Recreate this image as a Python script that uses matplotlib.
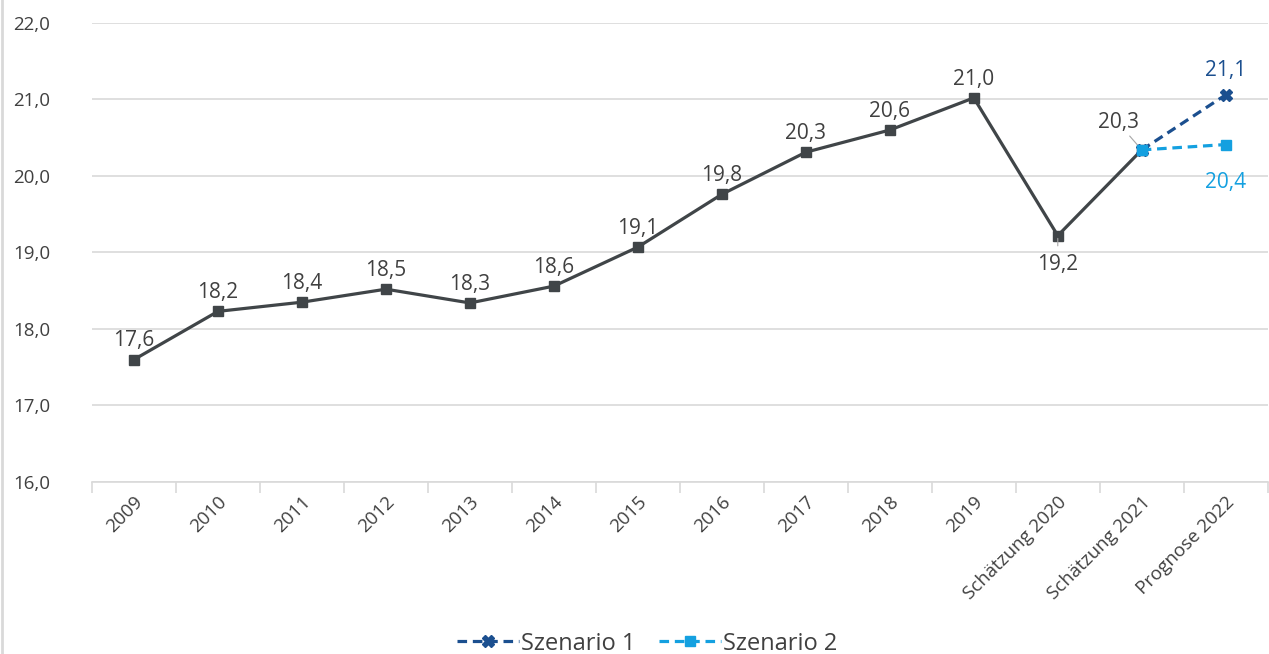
import matplotlib
matplotlib.use('Agg')
import matplotlib.pyplot as plt
import numpy as np

# data
categories = ['2009', '2010', '2011', '2012', '2013', '2014', '2015', '2016',
              '2017', '2018', '2019', 'Schätzung 2020', 'Schätzung 2021', 'Prognose 2022']
main_values = [17.6, 18.23, 18.35, 18.52, 18.34, 18.56, 19.07, 19.76,
               20.31, 20.60, 21.02, 19.22, 20.34]
szenario1 = [20.34, 21.06]
szenario2 = [20.34, 20.41]

GRAY = '#404548'
TEXT = '#404040'
DARK_BLUE = '#1B4F8F'
LIGHT_BLUE = '#14A0E0'
GRID = '#D9D9D9'

plt.rcParams['font.family'] = ['Open Sans', 'DejaVu Sans']

fig = plt.figure(figsize=(12.69, 6.54), dpi=100)
ax = fig.add_axes([0.0725, 0.263, 0.9265, 0.702])

x = np.arange(len(categories))
x_main = x[:len(main_values)]
x_scen = x[len(main_values) - 1:]

ax.plot(x_main, main_values, color=GRAY, lw=2.3, marker='s', ms=7, zorder=3)
l1, = ax.plot(x_scen, szenario1, color=DARK_BLUE, lw=2.3, ls=(0, (3, 1.8)),
              marker='X', ms=8, zorder=4, label='Szenario 1')
l2, = ax.plot(x_scen, szenario2, color=LIGHT_BLUE, lw=2.3, ls=(0, (3, 1.8)),
              marker='s', ms=7, zorder=4, label='Szenario 2')

def fmt(v):
    return f'{v:.1f}'.replace('.', ',')

LBL = 15

# data labels
for i, v in enumerate(main_values):
    if i == 11:
        ax.annotate(fmt(v), (i, v), xytext=(0, -13), textcoords='offset points',
                    ha='center', va='top', fontsize=LBL, color=TEXT)
        ax.annotate('', (i, v), xytext=(i, v - 0.17),
                    arrowprops=dict(arrowstyle='-', color='#A6A6A6', lw=0.8))
    elif i == 12:
        ax.annotate(fmt(v), (i, v), xytext=(-17, 12), textcoords='offset points',
                    ha='center', va='bottom', fontsize=LBL, color=TEXT,
                    arrowprops=dict(arrowstyle='-', color='#A6A6A6', lw=0.8,
                                    shrinkA=0, shrinkB=3))
    else:
        ax.annotate(fmt(v), (i, v), xytext=(0, 6), textcoords='offset points',
                    ha='center', va='bottom', fontsize=LBL, color=TEXT)

ax.annotate(fmt(szenario1[-1]), (x_scen[-1], szenario1[-1]), xytext=(0, 10),
            textcoords='offset points', ha='center', va='bottom', fontsize=LBL, color=DARK_BLUE)
ax.annotate(fmt(szenario2[-1]), (x_scen[-1], szenario2[-1]), xytext=(0, -20),
            textcoords='offset points', ha='center', va='top', fontsize=LBL, color=LIGHT_BLUE)

ax.set_xlim(-0.5, len(categories) - 0.5)
ax.set_ylim(16, 22)
ax.set_yticks(np.arange(16, 23, 1))
ax.set_yticklabels([fmt(t) for t in np.arange(16, 23, 1)])
ax.yaxis.grid(True, color=GRID, lw=1.2)
ax.set_axisbelow(True)

ax.set_xticks(x)
ax.set_xticklabels(categories, rotation=45, ha='right', rotation_mode='anchor')
ax.set_xticks(np.arange(-0.5, len(categories), 1), minor=True)
ax.tick_params(axis='x', which='major', length=0, pad=8, labelsize=13.5, labelcolor=TEXT)
ax.tick_params(axis='x', which='minor', length=8, color=GRID, width=1.2)
ax.tick_params(axis='y', length=0, pad=57, labelsize=13.5, labelcolor=TEXT)
for lab in ax.get_yticklabels():
    lab.set_horizontalalignment('left')

for s in ['top', 'right', 'left']:
    ax.spines[s].set_visible(False)
ax.spines['bottom'].set_color(GRID)
ax.spines['bottom'].set_linewidth(1.2)

fig.legend(handles=[l1, l2], loc='lower center', bbox_to_anchor=(0.51, -0.035),
           ncol=2, frameon=False, fontsize=17, handlelength=2.6, columnspacing=1.0,
           labelcolor=TEXT, handletextpad=0.1)

# thin border on the left of the chart area
fig.add_artist(plt.Line2D([0.0015, 0.0015], [0, 1], color=GRID, lw=2,
                          transform=fig.transFigure))

fig.savefig('out.png', dpi=100, facecolor='white')
